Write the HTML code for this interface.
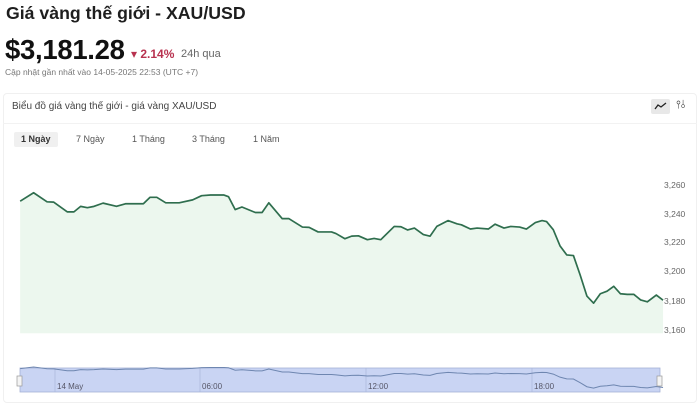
<!DOCTYPE html>
<html><head><meta charset="utf-8"><style>
*{margin:0;padding:0;box-sizing:border-box}
body{width:700px;height:400px;background:#fff;font-family:"Liberation Sans","DejaVu Sans",sans-serif;position:relative;overflow:hidden;color:#222}
.a{position:absolute;white-space:nowrap}
</style></head><body>
<div class="a" style="left:6px;top:3px;font-size:17.7px;font-weight:bold;color:#1e1e1e">Giá vàng thế giới - XAU/USD</div>
<div class="a" style="left:5px;top:34px;font-size:27.5px;font-weight:bold;color:#111;letter-spacing:-0.3px">$3,181.28</div>
<div class="a" style="left:131px;top:47px;font-size:12px;font-weight:bold;color:#b8324f">▾ 2.14%</div>
<div class="a" style="left:181px;top:48px;font-size:11px;color:#666">24h qua</div>
<div class="a" style="left:5px;top:67px;font-size:8.5px;color:#777">Cập nhật gần nhất vào 14-05-2025 22:53 (UTC +7)</div>
<div class="a" style="left:3px;top:93px;width:694px;height:310px;border:1px solid #f0f0f0;border-radius:4px"></div>
<div class="a" style="left:3px;top:123px;width:694px;height:1px;background:#f2f2f2"></div>
<div class="a" style="left:12px;top:101px;font-size:10px;color:#444">Biểu đồ giá vàng thế giới - giá vàng XAU/USD</div>
<div class="a" style="left:651px;top:99px;width:19px;height:15px;background:#e8e8e8;border-radius:2px"></div>
<svg class="a" style="left:654px;top:101px" width="14" height="10"><polyline points="1,8 4,4 7,6 12,2" fill="none" stroke="#222" stroke-width="1.3"/></svg>
<div class="a" style="left:676px;top:99px;font-size:11px;color:#333">⫯⫰</div>
<div class="a" style="left:14px;top:132px;width:44px;height:15px;background:#f0f0f0;border-radius:2px"></div>
<div class="a" style="left:21px;top:134px;font-size:9px;font-weight:bold;color:#333">1 Ngày</div>
<div class="a" style="left:76px;top:134px;font-size:9px;color:#555">7 Ngày</div>
<div class="a" style="left:132px;top:134px;font-size:9px;color:#555">1 Tháng</div>
<div class="a" style="left:192px;top:134px;font-size:9px;color:#555">3 Tháng</div>
<div class="a" style="left:253px;top:134px;font-size:9px;color:#555">1 Năm</div>
<svg class="a" style="left:0;top:0" width="700" height="400">
<g transform="translate(0,171.4) scale(0.448,0.3237)">
<polygon fill="#ecf7ee" points="45,92 75,66 105,94 120,95 150,125 165,125 180,108 195,112 210,108 230,98 260,108 280,100 320,100 335,80 350,80 370,97 400,97 430,88 450,75 470,73 500,73 510,78 525,118 540,110 570,127 585,127 600,97 630,146 645,146 675,172 690,173 710,187 740,187 750,192 770,208 785,200 800,199 820,211 835,207 850,211 880,170 895,171 910,181 925,175 945,195 960,200 975,170 1000,152 1020,162 1030,165 1050,178 1065,175 1090,178 1105,163 1125,175 1140,170 1160,172 1175,178 1195,158 1210,152 1220,155 1235,180 1250,230 1265,258 1280,260 1295,320 1310,385 1325,407 1340,378 1355,370 1370,355 1385,378 1400,380 1415,380 1430,397 1445,403 1465,382 1480,398 1480,500 45,500"/>
<polyline fill="none" stroke="#2f6e4e" stroke-width="1.7" vector-effect="non-scaling-stroke" stroke-linejoin="round" points="45,92 75,66 105,94 120,95 150,125 165,125 180,108 195,112 210,108 230,98 260,108 280,100 320,100 335,80 350,80 370,97 400,97 430,88 450,75 470,73 500,73 510,78 525,118 540,110 570,127 585,127 600,97 630,146 645,146 675,172 690,173 710,187 740,187 750,192 770,208 785,200 800,199 820,211 835,207 850,211 880,170 895,171 910,181 925,175 945,195 960,200 975,170 1000,152 1020,162 1030,165 1050,178 1065,175 1090,178 1105,163 1125,175 1140,170 1160,172 1175,178 1195,158 1210,152 1220,155 1235,180 1250,230 1265,258 1280,260 1295,320 1310,385 1325,407 1340,378 1355,370 1370,355 1385,378 1400,380 1415,380 1430,397 1445,403 1465,382 1480,398"/>
</g>
<g font-size="8.5" fill="#666">
<text x="664" y="188">3,260</text><text x="664" y="217">3,240</text><text x="664" y="245">3,220</text>
<text x="664" y="274">3,200</text><text x="664" y="304">3,180</text><text x="664" y="333">3,160</text>
</g>
<rect x="20" y="368" width="640" height="24" fill="#c9d4f3" stroke="#a6b2d6" stroke-width="0.8"/>
<g stroke="#a9b6da" stroke-width="0.7"><line x1="55" y1="368" x2="55" y2="392"/><line x1="200" y1="368" x2="200" y2="392"/><line x1="366" y1="368" x2="366" y2="392"/><line x1="532" y1="368" x2="532" y2="392"/></g>
<g transform="translate(0,363) scale(0.448,0.0616)"><polyline fill="none" stroke="#6e86b0" stroke-width="1" vector-effect="non-scaling-stroke" points="45,92 75,66 105,94 120,95 150,125 165,125 180,108 195,112 210,108 230,98 260,108 280,100 320,100 335,80 350,80 370,97 400,97 430,88 450,75 470,73 500,73 510,78 525,118 540,110 570,127 585,127 600,97 630,146 645,146 675,172 690,173 710,187 740,187 750,192 770,208 785,200 800,199 820,211 835,207 850,211 880,170 895,171 910,181 925,175 945,195 960,200 975,170 1000,152 1020,162 1030,165 1050,178 1065,175 1090,178 1105,163 1125,175 1140,170 1160,172 1175,178 1195,158 1210,152 1220,155 1235,180 1250,230 1265,258 1280,260 1295,320 1310,385 1325,407 1340,378 1355,370 1370,355 1385,378 1400,380 1415,380 1430,397 1445,403 1465,382 1480,398"/></g>
<g font-size="8" fill="#556">
<text x="57" y="389">14 May</text><text x="202" y="389">06:00</text><text x="368" y="389">12:00</text><text x="534" y="389">18:00</text></g>
<rect x="17" y="376" width="5" height="10" fill="#f4f4f4" stroke="#999" stroke-width="0.7"/>
<rect x="657" y="376" width="5" height="10" fill="#f4f4f4" stroke="#999" stroke-width="0.7"/>
</svg>
</body></html>
